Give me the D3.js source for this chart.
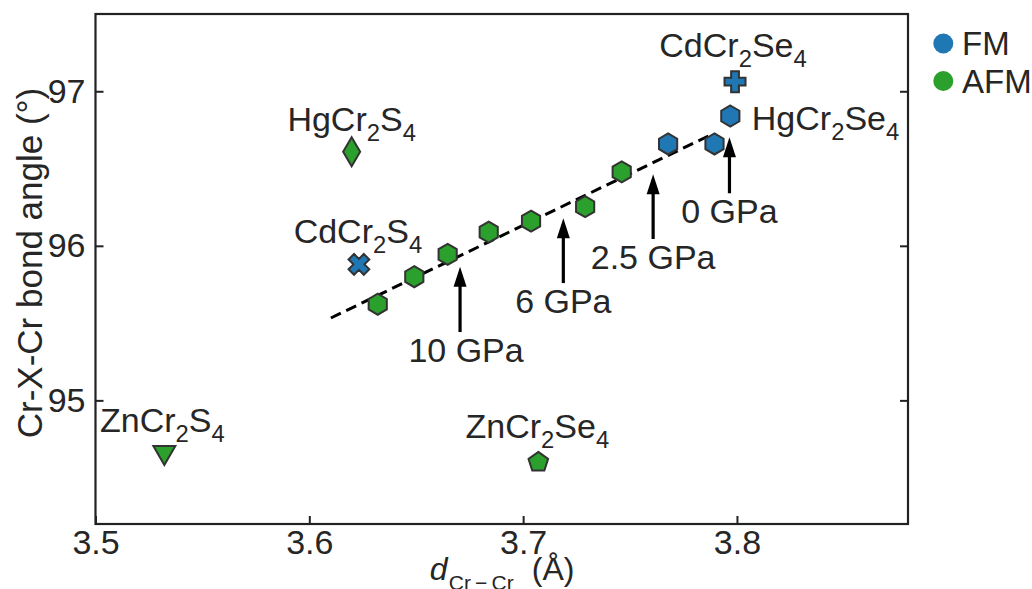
<!DOCTYPE html>
<html>
<head>
<meta charset="utf-8">
<script src="https://cdn.jsdelivr.net/npm/d3@7"></script>
<style>
  html, body { margin: 0; padding: 0; background: #fff; }
  svg { display: block; font-family: "Liberation Sans", Arial, sans-serif; }
</style>
</head>
<body>
<svg id="chart" width="1032" height="589"></svg>
<script>
// ---- data ----
// HgCr2Se4 under pressure (0 GPa at the right, pressure rising to the left)
const seriesX = [3.7969, 3.7895, 3.7678, 3.7461, 3.7290, 3.7037, 3.6839, 3.6647, 3.6491, 3.6320];
const seriesY = [96.840, 96.659, 96.659, 96.478, 96.253, 96.160, 96.089, 95.945, 95.800, 95.622];
const seriesOrder = ["FM", "FM", "FM", "AFM", "AFM", "AFM", "AFM", "AFM", "AFM", "AFM"];

// Other chromium spinels
const compoundNames = ["CdCr2Se4", "HgCr2S4", "CdCr2S4", "ZnCr2S4", "ZnCr2Se4"];
const compoundX = [3.7991, 3.6198, 3.6232, 3.5322, 3.7071];
const compoundY = [97.062, 96.609, 95.880, 94.643, 94.600];
const compoundOrder = ["FM", "AFM", "FM", "AFM", "AFM"];
const compoundSymbol = ["plus", "thinDiamond", "x", "triangleDown", "pentagon"];

// Linear trend through the pressure series
const fitX = [3.6101, 3.7885];
const fitY = [95.533, 96.723];

// Pressure markers
const pressureLabels = ["10 GPa", "6 GPa", "2.5 GPa", "0 GPa"];
const pressureX = [3.6705, 3.7188, 3.7608, 3.7965];
const pressureTipY = [95.865, 96.178, 96.463, 96.702];
const pressureTailY = [95.442, 95.759, 96.044, 96.340];

// Axes
const xTicks = [3.5, 3.6, 3.7, 3.8];
const yTicks = [95, 96, 97];
const legendLabels = ["FM", "AFM"];

// ---- styling ----
const colors = { FM: "#1f77b4", AFM: "#2ca02c" };
const edge = "#333333";
const ink = "#262626";
const fontSize = 34;

// label placement relative to each compound marker (px)
const compoundLabelDx = [-2, 0, -1, -2, -1];
const compoundLabelDy = [-25, -21, -21, -24, -24];
// small horizontal nudge of each pressure label from its arrow (px)
const pressureLabelDx = [6, 0, 0, 0];

const svg = d3.select("#chart");
const plot = { left: 95.5, right: 908, top: 14, bottom: 524 };

const x = d3.scaleLinear().domain([3.5, 3.88]).range([plot.left, plot.right]);
const y = d3.scaleLinear().domain([94.2, 97.5]).range([plot.bottom, plot.top]);

// ---- marker shapes ----
function polygon(n, r, rot) {
  const pts = d3.range(n).map(i => {
    const a = rot + i * 2 * Math.PI / n;
    return [r * Math.sin(a), -r * Math.cos(a)];
  });
  return "M" + pts.map(p => p.join(",")).join("L") + "Z";
}
function plusPath(h, w) {
  return `M${-w},${-h}H${w}V${-w}H${h}V${w}H${w}V${h}H${-w}V${w}H${-h}V${-w}H${-w}Z`;
}
const shapes = {
  hexagon: () => polygon(6, 10.5, 0),
  pentagon: () => polygon(5, 10.3, 0),
  thinDiamond: () => "M0,-14.5L8.5,0L0,14.5L-8.5,0Z",
  triangleDown: () => "M-11,-9.5L11,-9.5L0,9.5Z",
  plus: () => plusPath(10.5, 3.9),
  x: () => plusPath(10.8, 3.9)
};

// ---- text with subscript digits ----
function formula(sel, str, size) {
  const parts = str.match(/[A-Za-z]+|\d+/g);
  parts.forEach((p, k) => {
    if (/^\d+$/.test(p)) {
      sel.append("tspan").attr("font-size", size * 0.7).attr("dy", 10).text(p);
    } else {
      const t = sel.append("tspan").attr("font-size", size).text(p);
      if (k > 0) t.attr("dy", -10);
    }
  });
}

// ---- frame, ticks, tick labels ----
svg.append("rect")
  .attr("x", plot.left).attr("y", plot.top)
  .attr("width", plot.right - plot.left).attr("height", plot.bottom - plot.top)
  .attr("fill", "none").attr("stroke", "#222").attr("stroke-width", 2.2);

const xAxis = d3.axisBottom(x).tickValues(xTicks).tickSizeInner(-8).tickSizeOuter(0)
  .tickPadding(6).tickFormat(d3.format(".1f"));
const gx = svg.append("g").attr("transform", `translate(0,${plot.bottom})`).call(xAxis);
gx.select(".domain").remove();

const yAxis = d3.axisLeft(y).tickValues(yTicks).tickSizeInner(-8).tickSizeOuter(0)
  .tickPadding(10).tickFormat(d3.format("d"));
const gy = svg.append("g").attr("transform", `translate(${plot.left},0)`).call(yAxis);
gy.select(".domain").remove();

const yAxisR = d3.axisRight(y).tickValues(yTicks).tickSizeInner(-8).tickSizeOuter(0).tickFormat("");
const gyr = svg.append("g").attr("transform", `translate(${plot.right},0)`).call(yAxisR);
gyr.select(".domain").remove();

[gx, gy, gyr].forEach(g => {
  g.selectAll("line").attr("stroke", "#222").attr("stroke-width", 2);
  g.selectAll("text").attr("font-size", fontSize).attr("fill", ink)
    .attr("font-family", "Liberation Sans, Arial, sans-serif");
});

// ---- axis titles ----
svg.append("text")
  .attr("transform", `translate(42,263) rotate(-90)`)
  .attr("text-anchor", "middle").attr("font-size", 35).attr("fill", ink)
  .text("Cr-X-Cr bond angle (°)");

const cx = (plot.left + plot.right) / 2;
const xt = svg.append("text").attr("y", 580).attr("fill", ink).attr("font-size", 32);
xt.append("tspan").attr("x", cx - 72).attr("font-style", "italic").text("d");
xt.append("tspan").attr("x", cx - 53).attr("dy", 10).attr("font-size", 21)
  .text("Cr\u2009\u2212\u2009Cr");
xt.append("tspan").attr("x", cx + 30).attr("dy", -10).text("(Å)");

// ---- trend line ----
svg.append("path")
  .datum(d3.zip(fitX, fitY))
  .attr("d", d3.line().x(d => x(d[0])).y(d => y(d[1])))
  .attr("fill", "none").attr("stroke", "#000").attr("stroke-width", 3)
  .attr("stroke-dasharray", "11,6");

// ---- pressure series ----
svg.append("g").selectAll("path")
  .data(d3.range(seriesX.length))
  .join("path")
  .attr("transform", i => `translate(${x(seriesX[i])},${y(seriesY[i])})`)
  .attr("d", shapes.hexagon())
  .attr("fill", i => colors[seriesOrder[i]])
  .attr("stroke", edge).attr("stroke-width", 2);

// ---- compounds ----
const cg = svg.append("g");
compoundNames.forEach((name, i) => {
  const px = x(compoundX[i]), py = y(compoundY[i]);
  cg.append("path")
    .attr("transform", `translate(${px},${py})` + (compoundSymbol[i] === "x" ? " rotate(45)" : ""))
    .attr("d", shapes[compoundSymbol[i]]())
    .attr("fill", colors[compoundOrder[i]])
    .attr("stroke", edge).attr("stroke-width", 2).attr("stroke-linejoin", "miter");
  const t = cg.append("text")
    .attr("x", px + compoundLabelDx[i]).attr("y", py + compoundLabelDy[i])
    .attr("text-anchor", "middle").attr("fill", ink);
  formula(t, name, fontSize);
});

// label for the 0 GPa end of the series
const hgLabel = svg.append("text")
  .attr("x", x(seriesX[0]) + 21.5).attr("y", y(seriesY[0]) + 14)
  .attr("text-anchor", "start").attr("fill", ink);
formula(hgLabel, "HgCr2Se4", fontSize);

// ---- pressure arrows ----
const ag = svg.append("g");
pressureLabels.forEach((lab, i) => {
  const px = x(pressureX[i]);
  ag.append("line")
    .attr("x1", px).attr("x2", px)
    .attr("y1", y(pressureTailY[i])).attr("y2", y(pressureTipY[i]) + 16)
    .attr("stroke", "#000").attr("stroke-width", 3.2);
  ag.append("path")
    .attr("d", `M${px},${y(pressureTipY[i])}l6.5,20h-13z`)
    .attr("fill", "#000");
  ag.append("text")
    .attr("x", px + pressureLabelDx[i]).attr("y", y(pressureTailY[i]) + 30)
    .attr("text-anchor", "middle").attr("font-size", fontSize).attr("fill", ink)
    .text(lab);
});

// ---- legend ----
const lg = svg.append("g");
legendLabels.forEach((lab, i) => {
  const cy = 43.5 + i * 37.5;
  lg.append("circle").attr("cx", 943.3).attr("cy", cy).attr("r", 10).attr("fill", colors[lab]);
  lg.append("text").attr("x", 962).attr("y", cy + 11.5)
    .attr("font-size", 33).attr("fill", ink).text(lab);
});
</script>
</body>
</html>
